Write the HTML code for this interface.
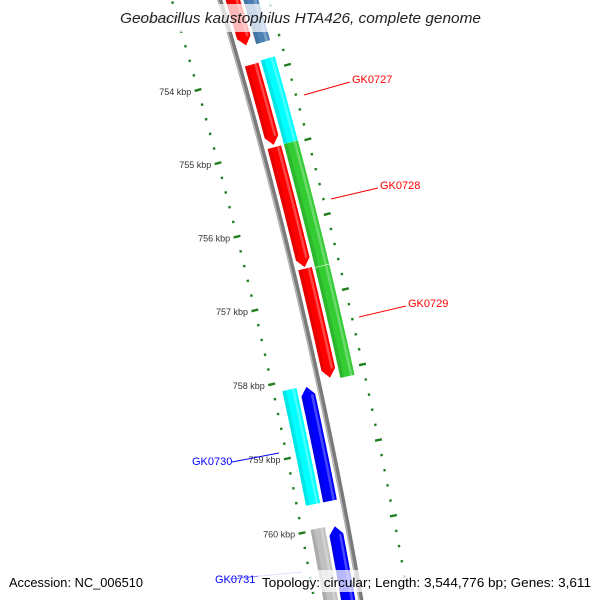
<!DOCTYPE html>
<html><head><meta charset="utf-8"><style>
html,body{margin:0;padding:0;background:#fff;width:600px;height:600px;overflow:hidden}
svg{display:block;font-family:"Liberation Sans","DejaVu Sans",sans-serif}
</style></head><body>
<svg id="map" width="600" height="600" viewBox="0 0 600 600" xmlns="http://www.w3.org/2000/svg">
<rect width="600" height="600" fill="#fff"/>
<g id="ticks"></g>
<g id="backbone"></g>
<g id="features"></g>
<g id="labels">
<line x1="304" y1="95" x2="350" y2="82" stroke="#ff0000" stroke-width="1"/>
<text x="352" y="83" font-size="11" fill="#ff0000">GK0727</text>
<line x1="331" y1="199" x2="378" y2="188" stroke="#ff0000" stroke-width="1"/>
<text x="380" y="189" font-size="11" fill="#ff0000">GK0728</text>
<line x1="359" y1="317" x2="406" y2="306" stroke="#ff0000" stroke-width="1"/>
<text x="408" y="307" font-size="11" fill="#ff0000">GK0729</text>
<line x1="232" y1="462" x2="279" y2="453" stroke="#0000ff" stroke-width="1"/>
<text x="192" y="465" font-size="11" fill="#0000ff">GK0730</text>
<line x1="230" y1="579" x2="302" y2="572" stroke="#8888ff" stroke-width="1"/>
<text x="215" y="583" font-size="11" fill="#0000ff">GK0731</text>
</g>
<rect x="112" y="4" width="376" height="28" fill="#fff" opacity="0.72"/>
<text x="120" y="23" font-size="14.5" font-style="italic" fill="#222" textLength="361" lengthAdjust="spacingAndGlyphs">Geobacillus kaustophilus HTA426, complete genome</text>
<rect x="4" y="570" width="150" height="22" fill="#fff" opacity="0.72"/>
<text x="9" y="587" font-size="13" fill="#000" textLength="134" lengthAdjust="spacingAndGlyphs">Accession: NC_006510</text>
<rect x="258" y="570" width="338" height="22" fill="#fff" opacity="0.72"/>
<text x="262" y="587" font-size="13" fill="#000" textLength="329" lengthAdjust="spacingAndGlyphs">Topology: circular; Length: 3,544,776 bp; Genes: 3,611</text>
</svg>
<script>
// data
const tickKbp=[753,754,755,756,757,758,759,760];
const tickLabels=["753 kbp","754 kbp","755 kbp","756 kbp","757 kbp","758 kbp","759 kbp","760 kbp"];
const featStart=[752800,753870,754987,756620,752800,753850,754980,756640,758130,759993,758117,759980];
const featEnd=[753610,754956,756600,758077,753630,754978,756632,758110,759656,761500,759657,761500];
const featStrand=[1,1,1,1,1,1,1,1,-1,-1,-1,-1];
const featSlot=[1,1,1,1,2,2,2,2,1,1,2,2];
const featArrow=[1,1,1,1,0,0,0,0,1,1,0,0];
const featColor=["#ff0000","#ff0000","#ff0000","#ff0000","#4a80b4","#00ffff","#33cc33","#33cc33","#0000ff","#0000ff","#00ffff","#c0c0c0"];
const featName=["gk0726-cds","gk0727-cds","gk0728-cds","gk0729-cds","gk0726-gene","gk0727-gene","gk0728-gene","gk0729-gene","gk0730-cds","gk0731-cds","gk0730-gene","gk0731-gene"];

const A=[198,90],C=[302,533],B=[255,311];
function circ(a,b,c){const d=2*(a[0]*(b[1]-c[1])+b[0]*(c[1]-a[1])+c[0]*(a[1]-b[1]));
const ux=((a[0]**2+a[1]**2)*(b[1]-c[1])+(b[0]**2+b[1]**2)*(c[1]-a[1])+(c[0]**2+c[1]**2)*(a[1]-b[1]))/d;
const uy=((a[0]**2+a[1]**2)*(c[0]-b[0])+(b[0]**2+b[1]**2)*(a[0]-c[0])+(c[0]**2+c[1]**2)*(b[0]-a[0]))/d;return [ux,uy];}
const cen=circ(A,B,C);
const Ri=Math.hypot(A[0]-cen[0],A[1]-cen[1]);
const Rb=Ri+46;
const thA=Math.atan2(A[1]-cen[1],A[0]-cen[0]);
const thC=Math.atan2(C[1]-cen[1],C[0]-cen[0]);
function ang(bp){return thA+(bp-754000)/6000*(thC-thA);}
function P(bp,d){const t=ang(bp),r=Rb+d;return [cen[0]+r*Math.cos(t),cen[1]+r*Math.sin(t)];}
const NS="http://www.w3.org/2000/svg";
function mk(tag,attrs,parent){const e=document.createElementNS(NS,tag);for(const k in attrs)e.setAttribute(k,attrs[k]);parent.appendChild(e);return e;}
function arc(b1,b2,d,n){const pts=[];for(let i=0;i<=n;i++){pts.push(P(b1+(b2-b1)*i/n,d));}return pts;}
function pstr(pts){return pts.map(p=>p[0].toFixed(2)+","+p[1].toFixed(2)).join(" ");}

const bb=document.getElementById('backbone');
const bbLine=mk('polyline',{points:pstr(arc(752500,761200,0,60)),fill:'none',stroke:'#7a7a7a','stroke-width':5},bb);


const bbHi=mk('polyline',{points:pstr(arc(752500,761200,-1.6,60)),fill:'none',stroke:'#b5b5b5','stroke-width':1.5},bb);



const tg=document.getElementById('ticks');
const tickColor='#1f7f1f';
for(let bp=752600;bp<=760800;bp+=200){
  const major=(bp%1000===0);
  [-46,47].forEach(function(d){
    const h=major?3.5:1.2;
    const p1=P(bp,d-h),p2=P(bp,d+h);
    const l=mk('line',{x1:p1[0],y1:p1[1],x2:p2[0],y2:p2[1],stroke:tickColor,'stroke-width':2.4},tg);
    
    
  });
}
tickKbp.forEach(function(k,i){
  const p=P(k*1000,-53);
  const t=mk('text',{x:p[0],y:p[1]+3,'text-anchor':'end','font-size':9,fill:'#333'},tg);
  t.textContent=tickLabels[i];
  
  
});

const fg=document.getElementById('features');
const slotD={1:[5.5,19.5],2:[22.5,37]};
featStart.forEach(function(s,i){
  const e=featEnd[i],st=featStrand[i];
  let d1=slotD[featSlot[i]][0],d2=slotD[featSlot[i]][1];
  if(st<0){const a=-d2,b=-d1;d1=a;d2=b;}
  const al=110;let pts;
  if(featArrow[i]){
    if(st>0){
      const sh=e-al;
      pts=arc(s,sh,d1,20).concat([P(e,(d1+d2)/2)]).concat(arc(sh,s,d2,20));
    }else{
      const sh=s+al;
      pts=arc(sh,e,d1,20).concat(arc(e,sh,d2,20)).concat([P(s,(d1+d2)/2)]);
    }
  }else{
    pts=arc(s,e,d1,20).concat(arc(e,s,d2,20));
  }
  const g=mk('g',{},fg);
  
  
  const poly=mk('polygon',{points:pstr(pts),fill:featColor[i]},g);
  
  
  const w=d2-d1;
  const sb1=s+(featArrow[i]&&st<0?al:0), sb2=e-(featArrow[i]&&st>0?al:0);
  const sh1=arc(sb1,sb2,d1+w*0.68,10).concat(arc(sb2,sb1,d1+w*0.86,10));
  const sp=mk('polygon',{points:pstr(sh1),fill:'#fff',opacity:0.28},g);
  
  
  const sh2=arc(sb1,sb2,d1,10).concat(arc(sb2,sb1,d1+w*0.25,10));
  const dp=mk('polygon',{points:pstr(sh2),fill:'#000',opacity:0.1},g);
  
  
});
</script>
</body></html>
